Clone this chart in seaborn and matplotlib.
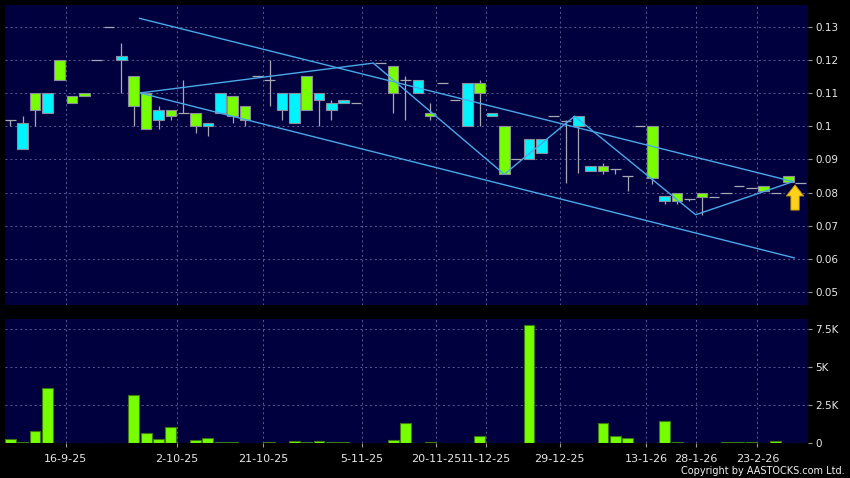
import numpy as np
import pandas as pd
import matplotlib
matplotlib.use('Agg')
import matplotlib.pyplot as plt
import seaborn as sns

# daily OHLC (slot index 0..64), nan = no mark
opens = [0.102, 0.101, 0.105, 0.110, 0.114, 0.107, 0.109, 0.120, 0.130, 0.121,
         0.106, 0.099, 0.105, 0.103, 0.104, 0.100, 0.101, 0.110, 0.103, 0.102,
         0.115, 0.114, 0.110, 0.110, 0.105, 0.110, 0.107, 0.108, 0.107, np.nan,
         0.119, 0.110, 0.114, 0.114, 0.103, 0.113, 0.108, 0.113, 0.110, 0.104,
         0.0855, 0.090, 0.096, 0.096, 0.103, 0.1015, 0.103, 0.088, 0.0865, 0.087,
         0.085, 0.100, 0.0845, 0.079, 0.0775, 0.078, 0.0785, 0.0785, 0.080, 0.082,
         0.0815, 0.0805, 0.080, 0.0833, 0.083]
highs = [0.102, 0.103, 0.110, 0.110, 0.120, 0.109, 0.110, 0.120, 0.130, 0.125,
         0.115, 0.110, 0.106, 0.105, 0.114, 0.104, 0.101, 0.110, 0.109, 0.106,
         0.115, 0.120, 0.110, 0.110, 0.115, 0.110, 0.108, 0.108, 0.107, np.nan,
         0.119, 0.118, 0.115, 0.114, 0.107, 0.113, 0.108, 0.113, 0.114, 0.104,
         0.100, 0.090, 0.096, 0.096, 0.103, 0.102, 0.103, 0.088, 0.089, 0.087,
         0.085, 0.100, 0.100, 0.079, 0.080, 0.078, 0.080, 0.0785, 0.080, 0.082,
         0.0815, 0.082, 0.080, 0.085, 0.083]
lows = [0.100, 0.093, 0.100, 0.104, 0.114, 0.107, 0.109, 0.120, 0.130, 0.110,
        0.100, 0.099, 0.099, 0.102, 0.104, 0.098, 0.097, 0.104, 0.101, 0.100,
        0.115, 0.106, 0.102, 0.101, 0.105, 0.100, 0.102, 0.107, 0.107, np.nan,
        0.119, 0.104, 0.102, 0.110, 0.102, 0.113, 0.108, 0.100, 0.100, 0.103,
        0.0855, 0.090, 0.090, 0.092, 0.103, 0.083, 0.086, 0.0865, 0.0855, 0.0855,
        0.0805, 0.100, 0.0825, 0.0765, 0.0765, 0.0775, 0.0733, 0.0785, 0.080, 0.082,
        0.0815, 0.0805, 0.080, 0.0833, 0.083]
closes = [0.102, 0.093, 0.110, 0.104, 0.120, 0.109, 0.110, 0.120, 0.130, 0.120,
          0.115, 0.110, 0.102, 0.105, 0.104, 0.104, 0.100, 0.104, 0.109, 0.106,
          0.115, 0.114, 0.105, 0.101, 0.115, 0.108, 0.105, 0.107, 0.107, np.nan,
          0.119, 0.118, 0.114, 0.110, 0.104, 0.113, 0.108, 0.100, 0.113, 0.103,
          0.100, 0.090, 0.090, 0.092, 0.103, 0.1015, 0.100, 0.0865, 0.088, 0.087,
          0.085, 0.100, 0.100, 0.0775, 0.080, 0.078, 0.080, 0.0785, 0.080, 0.082,
          0.0815, 0.082, 0.080, 0.085, 0.083]
volumes = [285, 110, 830, 3640, 20, 0, 0, 0, 0, 50,
           3180, 700, 260, 1050, 50, 200, 330, 90, 80, 40,
           0, 80, 20, 150, 100, 150, 100, 80, 0, 0,
           0, 200, 1340, 30, 70, 0, 0, 0, 500, 0,
           40, 40, 7760, 0, 0, 40, 0, 0, 1340, 500,
           330, 0, 0, 1490, 70, 0, 0, 0, 60, 60,
           60, 0, 130, 0, 0]

date_pos = [4.5, 13.5, 20.5, 28.5, 34.5, 38.5, 44.5, 51.5, 55.5, 60.5]
date_labels = ['16-9-25', '2-10-25', '21-10-25', '5-11-25', '20-11-25',
               '11-12-25', '29-12-25', '13-1-26', '28-1-26', '23-2-26']

# drawn trend lines (slot index, price)
upper_x, upper_y = [10.45, 63.4], [0.1325, 0.0833]
lower_x, lower_y = [10.5, 63.5], [0.110, 0.0603]
zig_x = [10.5, 29.4, 40.0, 45.7, 55.5, 63.4]
zig_y = [0.110, 0.119, 0.0855, 0.103, 0.0733, 0.0833]

df = pd.DataFrame({'o': opens, 'h': highs, 'l': lows, 'c': closes, 'v': volumes})
df['i'] = np.arange(len(df))

sns.set_style('dark')
plt.rcParams['font.family'] = ['DejaVu Sans']

BG = '#00003e'
GREEN = '#77ff00'
CYAN = '#00f4ff'
EDGE = '#8c8c9c'
GRID = '#5c5c94'
LINE = '#4aa8e8'

fig = plt.figure(figsize=(8.5, 4.78), dpi=100, facecolor='black')
ax = fig.add_axes([0.0059, 0.3619, 0.9447, 0.6276])
axv = fig.add_axes([0.0059, 0.0726, 0.9447, 0.2600])

for a in (ax, axv):
    a.set_facecolor(BG)
    for s in a.spines.values():
        s.set_visible(False)
    a.grid(True, color=GRID, linestyle=(0, (2, 3)), linewidth=0.7)
    a.yaxis.tick_right()
    a.tick_params(axis='y', colors='#9a9a9a', labelcolor='#e8e8e8', labelsize=7.5,
                  length=3, width=0.8, pad=2, right=True, left=False)
    a.tick_params(axis='x', colors='#9a9a9a', labelcolor='#e8e8e8', labelsize=8,
                  length=3, width=0.8, pad=5, bottom=True)
    a.set_xlim(-0.43, 64.6)
    a.set_xticks(date_pos)

# candles
w = 0.86
d = df.dropna()
body = d[d['o'] != d['c']]
doji = d[d['o'] == d['c']]
ax.vlines(d['i'], d['l'], d['h'], color='#a8a8b0', linewidth=0.9, zorder=2)
bcol = np.where(body['c'] > body['o'], GREEN, CYAN)
ax.bar(body['i'], (body['c'] - body['o']).abs(), bottom=body[['o', 'c']].min(axis=1),
       width=w, color=bcol, edgecolor=EDGE, linewidth=0.8, zorder=3)
ax.hlines(doji['o'], doji['i'] - w / 2, doji['i'] + w / 2, color='#a8a8b0',
          linewidth=0.9, zorder=3)

# trend lines
for xs, ys in [(upper_x, upper_y), (lower_x, lower_y), (zig_x, zig_y)]:
    sns.lineplot(x=xs, y=ys, ax=ax, color=LINE, linewidth=1.0, zorder=4,
                 estimator=None, sort=False)

ax.annotate('', xy=(63.55, 0.0823), xytext=(63.55, 0.0747),
            arrowprops=dict(arrowstyle='simple,head_width=1.25,head_length=0.8,tail_width=0.6',
                            fc='#ffd21a', ec='#c89000', lw=0.6, shrinkA=0, shrinkB=0),
            zorder=5)

ax.set_ylim(0.0461, 0.1365)
ax.set_yticks([0.05, 0.06, 0.07, 0.08, 0.09, 0.10, 0.11, 0.12, 0.13])
ax.set_yticklabels(['0.05', '0.06', '0.07', '0.08', '0.09', '0.1', '0.11', '0.12', '0.13'])
ax.set_xticklabels([])
ax.tick_params(axis='x', length=0)
ax.set_xlabel('')
ax.set_ylabel('')

# volume
sns.barplot(data=df, x='i', y='v', ax=axv, native_scale=True, width=0.88,
            color=GREEN, edgecolor='#3c7a10', linewidth=0.8, saturation=1, zorder=3)
axv.set_xlim(-0.43, 64.6)
axv.set_ylim(0, 8180)
axv.set_yticks([0, 2500, 5000, 7500])
axv.set_yticklabels(['0', '2.5K', '5K', '7.5K'])
axv.set_xticks(date_pos)
axv.set_xticklabels(date_labels)
axv.set_xlabel('')
axv.set_ylabel('')

fig.text(0.994, 0.004, 'Copyright by AASTOCKS.com Ltd.', ha='right', va='bottom',
         fontsize=7, color='#f0f0f0')

fig.savefig('out.png', dpi=100, facecolor='black')
